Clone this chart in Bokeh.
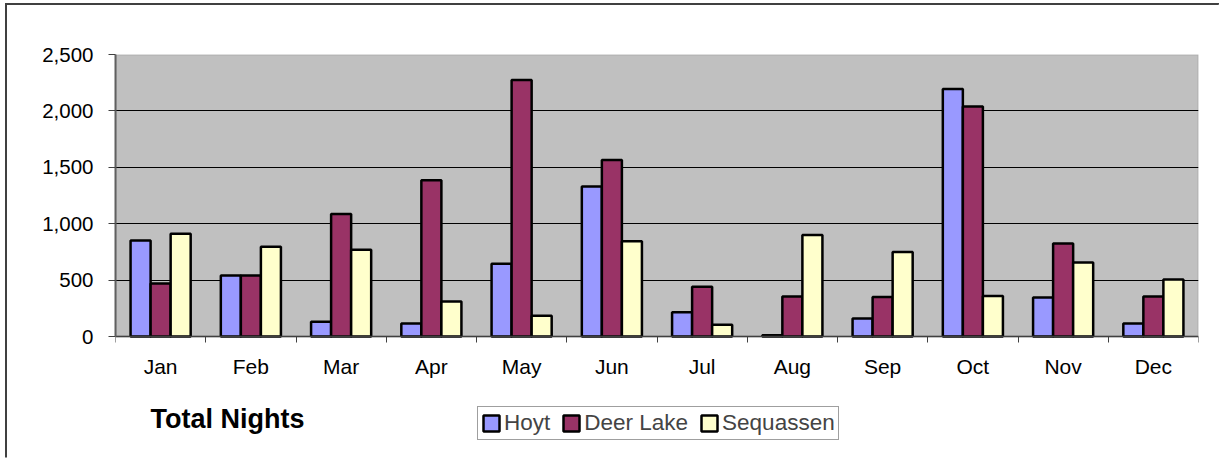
from bokeh.plotting import figure
from bokeh.models import (ColumnDataSource, Range1d, FixedTicker, NumeralTickFormatter,
                          Legend, LegendItem, Label, BoxAnnotation)
from bokeh.transform import dodge
from bokeh.embed import file_html
from bokeh.resources import INLINE

months = ["Jan", "Feb", "Mar", "Apr", "May", "Jun", "Jul", "Aug", "Sep", "Oct", "Nov", "Dec"]
hoyt = [850, 540, 130, 115, 645, 1330, 215, 10, 160, 2195, 345, 115]
deer_lake = [470, 540, 1085, 1385, 2275, 1565, 440, 355, 350, 2040, 825, 355]
sequassen = [910, 795, 770, 310, 185, 845, 105, 900, 750, 360, 655, 505]
series_names = ["Hoyt", "Deer Lake", "Sequassen"]
series_colors = ["#9999FF", "#993366", "#FFFFCC"]
y_ticks = [0, 500, 1000, 1500, 2000, 2500]
chart_label = "Total Nights"

FONT = "Liberation Sans"

# layout geometry (pixels)
W, H = 1214, 458
LEFT, TOP, RIGHT = 110, 51, 21
PLOT_H = 282          # height of the value area (0 .. max tick)
BELOW = H - TOP - PLOT_H  # space under the value area, inside the frame
y_min = -y_ticks[-1] * BELOW / PLOT_H

xpos = [i + 0.5 for i in range(len(months))]
source = ColumnDataSource(dict(x=xpos, month=months, hoyt=hoyt,
                               deer=deer_lake, seq=sequassen))

p = figure(width=W, height=H, output_backend="svg", toolbar_location=None,
           x_range=Range1d(0, len(months)), y_range=Range1d(y_min, y_ticks[-1]),
           min_border_left=LEFT, min_border_top=TOP, min_border_right=RIGHT,
           min_border_bottom=0,
           styles={"margin-left": "5px", "margin-top": "3px"})

p.background_fill_color = "white"
p.border_fill_color = "white"
p.outline_line_color = None
# chart border: only top and left edges are visible in the cropped original
p.border_line_color = "#404040"
p.border_line_width = 3
p.border_line_dash = f"{W} {W + H} {H} 1"

# grey plot area
p.add_layout(BoxAnnotation(left=0, right=len(months), bottom=y_ticks[0], top=y_ticks[-1],
                           fill_color="#C0C0C0", fill_alpha=1,
                           line_color="#808080", line_width=2, level="image"))

w = 0.222
renderers = []
for col, off, color in zip(["hoyt", "deer", "seq"], [-w, 0, w], series_colors):
    r = p.vbar(x=dodge("x", off, range=p.x_range), top=col, width=w, source=source,
               fill_color=color, line_color="black", line_width=2.5)
    renderers.append(r)

# grid
p.xgrid.visible = False
p.ygrid.ticker = FixedTicker(ticks=y_ticks[1:-1])
p.ygrid.grid_line_color = "black"
p.ygrid.grid_line_width = 1

# x axis, drawn at value 0
xa = p.xaxis[0]
xa.fixed_location = 0
xa.ticker = FixedTicker(ticks=xpos, minor_ticks=list(range(len(months) + 1)))
xa.major_label_overrides = {x: m for x, m in zip(xpos, months)}
xa.major_tick_out = 0
xa.major_tick_in = 0
xa.minor_tick_out = 6
xa.minor_tick_in = 0
xa.minor_tick_line_color = "#404040"
xa.minor_tick_line_width = 1
xa.axis_line_color = "#404040"
xa.axis_line_width = 1.5
xa.major_label_standoff = 12
xa.major_label_text_font = FONT
xa.major_label_text_font_size = "21px"
xa.major_label_text_color = "black"

# y axis
ya = p.yaxis[0]
ya.bounds = (y_ticks[0], y_ticks[-1])
ya.ticker = FixedTicker(ticks=y_ticks)
ya.formatter = NumeralTickFormatter(format="0,0")
ya.major_tick_out = 7
ya.major_tick_in = 0
ya.minor_tick_out = 0
ya.minor_tick_in = 0
ya.major_tick_line_color = "#404040"
ya.axis_line_color = "#606060"
ya.axis_line_width = 2
ya.major_label_standoff = 15
ya.major_label_text_font = FONT
ya.major_label_text_font_size = "20.5px"
ya.major_label_text_color = "black"

# legend (inside the frame, below the value area)
legend = Legend(items=[LegendItem(label=n, renderers=[r]) for n, r in zip(series_names, renderers)],
                orientation="horizontal", location=(362, 21))
legend.label_text_font = FONT
legend.label_text_font_size = "22.5px"
legend.glyph_width = 20
legend.glyph_height = 20
legend.label_standoff = 3
legend.spacing = 11
legend.padding = 3
legend.margin = 0
legend.border_line_color = "#404040"
legend.border_line_width = 1
legend.background_fill_color = "white"
legend.background_fill_alpha = 1
p.add_layout(legend)

# chart label
p.add_layout(Label(x=35, y=43, x_units="screen", y_units="screen", text=chart_label,
                   text_font=FONT, text_font_size="27px", text_font_style="bold",
                   text_baseline="alphabetic", text_color="black"))

open("out.html", "w").write(file_html(p, INLINE))
